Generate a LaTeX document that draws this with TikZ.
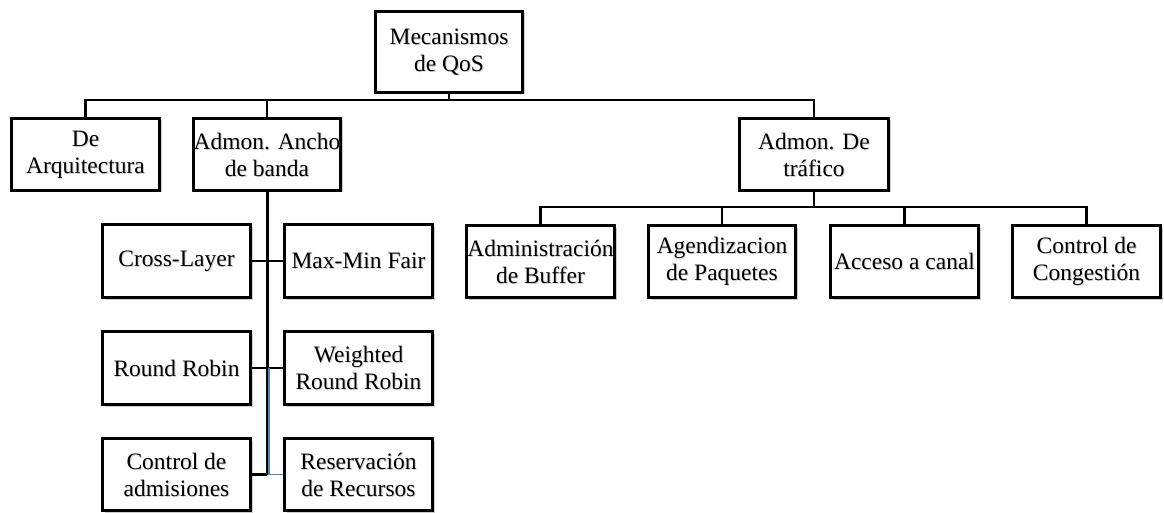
\documentclass[tikz,border=0pt]{standalone}
\usepackage{fontspec}
\setmainfont{Liberation Serif}
\newfontfamily\boxfont{Liberation Serif}
\usetikzlibrary{shadows}
\definecolor{linkblue}{HTML}{4F81BD}
\definecolor{shade}{HTML}{8A8A8A}

% box with border and soft shadow, then its label with a faint shade
\newcommand\qosbox[6]{%
  \node[qbox, minimum width=#4pt, minimum height=#5pt] (#1) at (#2,#3) {};
  \node[qtext, text=shade, opacity=0.35] at ([xshift=1pt,yshift=-1.2pt]#1.center) {#6};
  \node[qtext] at (#1.center) {#6};
}

\begin{document}
\begin{tikzpicture}[x=1pt,y=-1pt,
  qbox/.style={draw=black, line width=2.4pt, fill=white, inner sep=0pt,
    drop shadow={shadow xshift=2pt, shadow yshift=-2pt, opacity=0.2, fill=black}},
  qtext/.style={align=center, inner sep=0pt, font=\boxfont\fontsize{23.5}{27}\selectfont},
  conn/.style={draw=black, line width=2.3pt},
  trunk/.style={draw=black, line width=3pt},
  thinlink/.style={draw=linkblue, line width=1.1pt}]

\useasboundingbox (0,0) rectangle (1164,513);

% root and first level
\qosbox{top}{449}{52}{147}{81}{Mecanismos\\de QoS}
\qosbox{arq}{85.5}{154.5}{148}{72}{De\\Arquitectura}
\qosbox{ancho}{267}{154.5}{147}{72}{Admon. Ancho\\de banda}
\qosbox{traf}{814}{154.5}{149}{72}{Admon. De\\tr\'afico}

% traffic management children
\qosbox{c1}{540.5}{261.5}{148}{72}{Administraci\'on\\de Buffer}
\qosbox{c2}{722}{261.5}{147}{72}{Agendizacion\\de Paquetes}
\qosbox{c3}{904.5}{261.5}{148}{72}{Acceso a canal}
\qosbox{c4}{1086.5}{261.5}{148}{72}{Control de\\Congesti\'on}

% bandwidth management children
\qosbox{L1}{176.5}{261}{148}{73}{Cross-Layer}
\qosbox{R1}{358.5}{261}{148}{73}{Max-Min Fair}
\qosbox{L2}{176.5}{368}{148}{73}{Round Robin}
\qosbox{R2}{358.5}{368}{148}{73}{Weighted\\Round Robin}
\qosbox{L3}{176.5}{474.5}{148}{72}{Control de\\admisiones}
\qosbox{R3}{358.5}{474.5}{148}{72}{Reservaci\'on\\de Recursos}

% first level bus
\coordinate (bus) at (449,100);
\draw[conn] (top.south) -- (bus);
\draw[conn] (arq.north) -- (arq.north |- bus) -- (traf.north |- bus) -- (traf.north);
\draw[conn] (ancho.north) -- (ancho.north |- bus);

% traffic management bus
\coordinate (tbus) at (814,207);
\draw[conn] (traf.south) -- (tbus);
\draw[conn] (c1.north) -- (c1.north |- tbus) -- (c4.north |- tbus) -- (c4.north);
\draw[conn] (c2.north) -- (c2.north |- tbus);
\draw[conn] (c3.north) -- (c3.north |- tbus);

% bandwidth management trunk and branches
\coordinate (j2) at (ancho.south |- L2.east);
\coordinate (j3) at (ancho.south |- L3.east);
\draw[trunk] (ancho.south) -- (j3);
\draw[conn] (L1.east) -- (R1.west);
\draw[conn] (L2.east) -- (R2.west);
\draw[conn] (L3.east) -- (j3);
\draw[thinlink] ([xshift=2pt]j2) -- ([xshift=2pt]j3) -- (R3.west);

\end{tikzpicture}
\end{document}
